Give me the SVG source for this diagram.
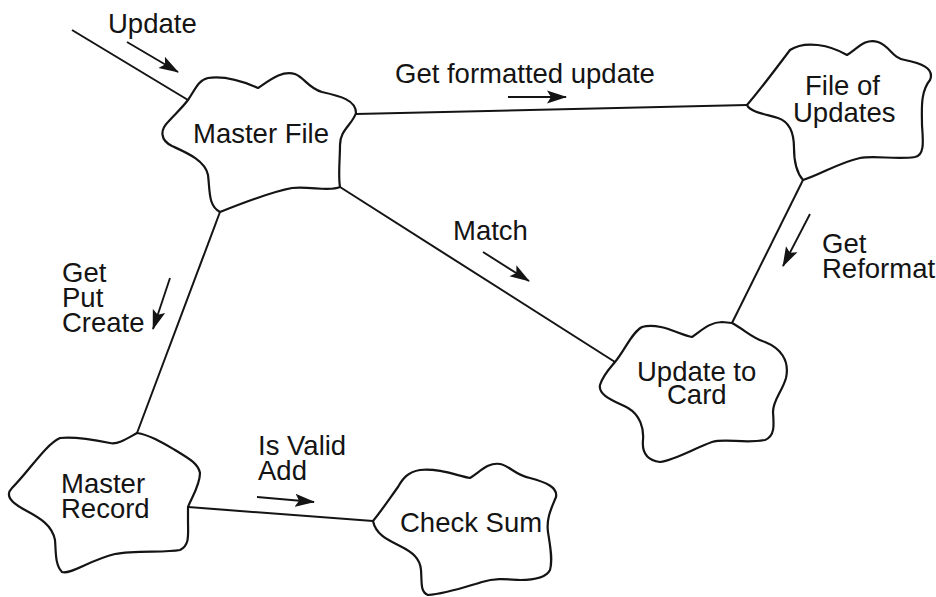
<svg xmlns="http://www.w3.org/2000/svg" width="936" height="597" viewBox="0 0 936 597">
<style>
.cloud{fill:#fff;stroke:#141414;stroke-width:2.2;stroke-linejoin:round}
.edge{fill:none;stroke:#141414;stroke-width:2}
.arr{fill:none;stroke:#141414;stroke-width:1.9;marker-end:url(#ah)}
text{font-family:"Liberation Sans",Arial,sans-serif;font-size:27.5px;fill:#141414}
</style>
<defs>
<marker id="ah" viewBox="0 0 20 14" refX="19" refY="7" markerWidth="20" markerHeight="14" markerUnits="userSpaceOnUse" orient="auto">
<path d="M0,0.5 L20,7 L0,13.5 L4,7 Z" fill="#141414"/>
</marker>
</defs>
<rect width="936" height="597" fill="#fff"/>
<g id="connectors">
<line class="edge" x1="72" y1="30" x2="188" y2="100"/>
<line class="edge" x1="356" y1="114" x2="747" y2="105"/>
<line class="edge" x1="340" y1="187" x2="615" y2="362"/>
<line class="edge" x1="803" y1="180" x2="732" y2="323"/>
<line class="edge" x1="220" y1="212" x2="137" y2="433"/>
<line class="edge" x1="188" y1="507" x2="373" y2="521"/>
<line class="arr" x1="127" y1="42" x2="178" y2="72"/>
<line class="arr" x1="508" y1="97" x2="566" y2="97"/>
<line class="arr" x1="483" y1="252" x2="529" y2="281"/>
<line class="arr" x1="810" y1="214" x2="783" y2="266"/>
<line class="arr" x1="170" y1="278" x2="153" y2="329"/>
<line class="arr" x1="257" y1="497" x2="314" y2="502"/>
<text x="108" y="33">Update</text>
<text x="395" y="83">Get formatted update</text>
<text x="453" y="240">Match</text>
<text x="822" y="253">Get</text>
<text x="822" y="278">Reformat</text>
<text x="62" y="282">Get</text>
<text x="62" y="307">Put</text>
<text x="62" y="332">Create</text>
<text x="258" y="455">Is Valid</text>
<text x="258" y="480">Add</text>
</g>
<g id="master-file">
<path class="cloud" d="M188,100 C195,90 198,80 208,78 C222,76 240,80 258,88 C270,80 282,70 295,74 C305,78 308,88 322,92 C340,96 356,100 356,113 C352,125 340,130 340,145 C340,160 338,175 340,187 C330,192 310,186 292,188 C270,192 240,204 220,212 C208,206 210,190 208,175 C205,160 185,152 172,146 C160,140 160,130 168,122 C175,114 182,108 188,100 Z"/>
<text x="193" y="143">Master File</text>
</g>
<g id="file-of-updates">
<path class="cloud" d="M747,105 C760,90 775,70 790,50 C805,40 830,45 847,55 C858,48 865,38 878,42 C890,46 892,58 905,60 C920,63 935,68 930,80 C920,92 922,110 922,125 C923,140 925,155 915,157 C895,160 875,155 860,158 C840,162 820,175 803,180 C796,172 794,160 794,148 C794,135 790,122 778,118 C765,114 750,112 747,105 Z"/>
<text x="805" y="95">File of</text>
<text x="793" y="122">Updates</text>
</g>
<g id="update-to-card">
<path class="cloud" d="M615,362 C625,350 632,332 642,327 C660,322 680,335 692,337 C702,330 710,322 722,322 L732,323 C745,330 752,338 765,342 C780,348 790,360 786,378 C782,392 773,400 773,412 C774,425 775,436 765,440 C745,444 725,438 712,442 C695,448 675,460 660,462 C645,460 642,450 643,440 C644,428 640,415 628,408 C612,400 598,395 600,385 C603,375 610,368 615,362 Z"/>
<text x="637" y="381">Update to</text>
<text x="667" y="404">Card</text>
</g>
<g id="master-record">
<path class="cloud" d="M137,433 C128,438 118,445 110,443 C95,440 75,436 60,438 C45,445 30,470 12,488 C5,495 10,502 25,510 C40,518 52,525 55,540 C56,552 55,565 62,572 C70,575 90,560 115,554 C135,550 165,553 180,550 C190,545 188,535 188,520 L188,507 C192,497 200,485 200,473 C198,463 188,458 175,450 C163,443 150,435 137,433 Z"/>
<text x="61" y="493">Master</text>
<text x="61" y="518">Record</text>
</g>
<g id="check-sum">
<path class="cloud" d="M373,521 C382,510 390,498 398,487 C403,478 408,472 420,470 C440,468 458,476 470,478 C480,472 488,462 500,464 C510,466 515,475 530,478 C545,482 558,487 556,497 C552,507 546,518 548,532 C550,545 553,560 550,570 C546,578 535,580 520,580 C505,579 495,578 482,582 C465,587 445,594 428,595 C420,592 422,582 421,570 C420,558 412,552 400,546 C388,540 376,535 373,521 Z"/>
<text x="400" y="532">Check Sum</text>
</g>
</svg>
